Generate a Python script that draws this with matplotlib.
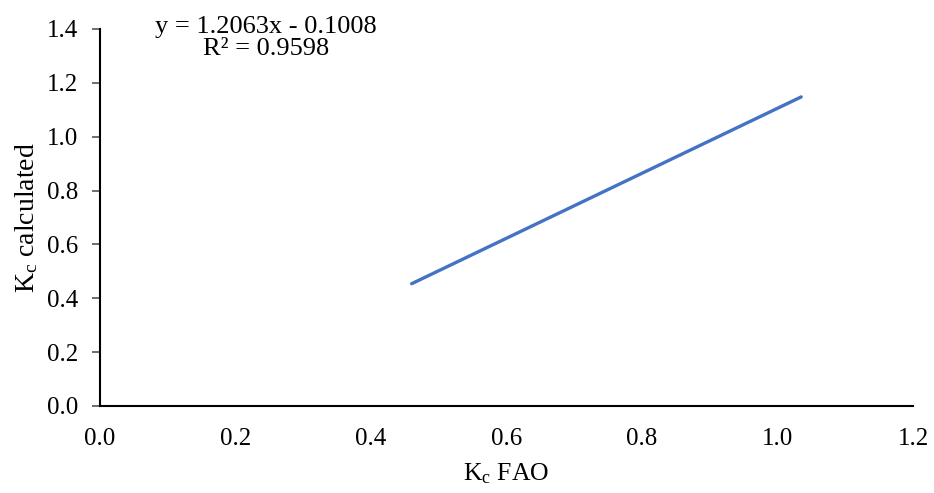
import numpy as np
import matplotlib.pyplot as plt

plt.rcParams['font.family'] = ['Liberation Serif', 'DejaVu Serif']
plt.rcParams['mathtext.default'] = 'regular'

# linear trendline: Kc calculated vs Kc FAO
slope = 1.2063
intercept = -0.1008
r2 = 0.9598
x_ends = np.array([0.46, 1.035])
y_ends = slope * x_ends + intercept

x_ticks = [0.0, 0.2, 0.4, 0.6, 0.8, 1.0, 1.2]
y_ticks = [0.0, 0.2, 0.4, 0.6, 0.8, 1.0, 1.2, 1.4]

fig = plt.figure(figsize=(9.34, 4.93), dpi=100)
ax = fig.add_axes([0.1071, 0.1765, 0.8704, 0.7647])

ax.plot(x_ends, y_ends, color='#4472C4', linewidth=2.4, solid_capstyle='round')

ax.set_xlim(0, 1.2)
ax.set_ylim(0, 1.4)
ax.set_xticks(x_ticks)
ax.set_yticks(y_ticks)
ax.set_xticklabels([f'{v:.1f}' for v in x_ticks])
ax.set_yticklabels([f'{v:.1f}' for v in y_ticks])

for s in ['top', 'right']:
    ax.spines[s].set_visible(False)
for s in ['left', 'bottom']:
    ax.spines[s].set_linewidth(1.5)
    ax.spines[s].set_color('black')

ax.tick_params(axis='x', length=0, pad=16, labelsize=18)
ax.tick_params(axis='y', length=6, width=1.2, color='#555555', pad=10, labelsize=18)

ax.set_xlabel('K$_c$ FAO', fontsize=18.5, labelpad=8)
ax.set_ylabel('K$_c$ calculated', fontsize=20, labelpad=5)

eq = f'y = {slope:.4f}x - {abs(intercept):.4f}\nR² = {r2:.4f}'
fig.text(0.285, 0.968, eq, ha='center', va='top', fontsize=19, linespacing=1.0)

fig.savefig('out.png', dpi=100)
